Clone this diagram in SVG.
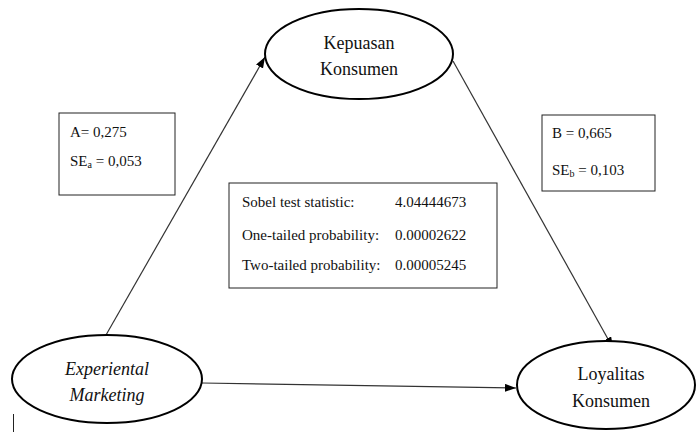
<svg xmlns="http://www.w3.org/2000/svg" width="696" height="432" viewBox="0 0 696 432">
<style>
.node{fill:#fff;stroke:#000;stroke-width:2}
.box{fill:#fff;stroke:#222;stroke-width:1}
.t{font-family:"Liberation Serif","Times New Roman",serif;fill:#111}
.big{font-size:18px;text-anchor:middle}
.it{font-style:italic}
.sm{font-size:15px}
.edge{stroke:#333;stroke-width:1.2;fill:none;marker-end:url(#arr)}
</style>
<defs>
<marker id="arr" markerUnits="userSpaceOnUse" markerWidth="12" markerHeight="10" refX="11" refY="4" orient="auto">
<path d="M0,0 L11,4 L0,8 Z" fill="#000"/>
</marker>
</defs>
<g id="connectors">
<line class="edge" x1="106" y1="335" x2="265" y2="57"/>
<line class="edge" x1="453" y1="61" x2="613" y2="348"/>
<line class="edge" x1="202" y1="383" x2="516" y2="388"/>
</g>
<g id="kepuasan">
<ellipse class="node" cx="359" cy="54" rx="94" ry="45"/>
<text class="t big" x="359" y="49">Kepuasan</text>
<text class="t big" x="359" y="75">Konsumen</text>
</g>
<g id="experiental">
<ellipse class="node" cx="107" cy="379" rx="95" ry="44"/>
<text class="t big it" x="107" y="375">Experiental</text>
<text class="t big it" x="107" y="401">Marketing</text>
</g>
<g id="loyalitas">
<ellipse class="node" cx="606" cy="385" rx="89" ry="44"/>
<text class="t big" x="611" y="380">Loyalitas</text>
<text class="t big" x="611" y="407">Konsumen</text>
</g>
<g id="box-a">
<rect class="box" x="59" y="113" width="116" height="82"/>
<text class="t sm" x="70" y="137">A= 0,275</text>
<text class="t sm" x="70" y="166">SE<tspan font-size="10" dy="2">a</tspan><tspan dy="-2"> = 0,053</tspan></text>
</g>
<g id="box-b">
<rect class="box" x="542" y="115" width="113" height="76"/>
<text class="t sm" x="552" y="138">B = 0,665</text>
<text class="t sm" x="552" y="175">SE<tspan font-size="10" dy="2">b</tspan><tspan dy="-2"> = 0,103</tspan></text>
</g>
<g id="sobel">
<rect class="box" x="229" y="183" width="268" height="105"/>
<text class="t sm" x="242" y="207">Sobel test statistic:</text>
<text class="t sm" x="395" y="207">4.04444673</text>
<text class="t sm" x="242" y="240">One-tailed probability:</text>
<text class="t sm" x="395" y="240">0.00002622</text>
<text class="t sm" x="242" y="270">Two-tailed probability:</text>
<text class="t sm" x="395" y="270">0.00005245</text>
</g>
<line x1="13.5" y1="414" x2="13.5" y2="432" stroke="#222" stroke-width="1"/>
</svg>
